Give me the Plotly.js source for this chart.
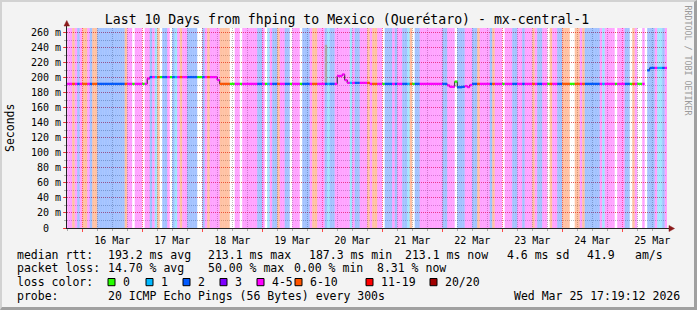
<!DOCTYPE html>
<html><head><meta charset="utf-8">
<script src="https://cdn.plot.ly/plotly-3.0.1.min.js"></script>
<style>
html,body{margin:0;padding:0;background:#f3f3f3;}
#wrap{position:relative;width:697px;height:310px;overflow:hidden;}
#chart{position:absolute;left:0;top:0;width:697px;height:310px;}
#frame{position:absolute;left:0;top:0;width:697px;height:310px;box-sizing:border-box;border-top:2px solid #d2d2d2;border-left:2px solid #d2d2d2;border-right:3px solid #a0a0a0;border-bottom:3px solid #a0a0a0;pointer-events:none;}
</style></head><body>
<div id="wrap"><div id="chart"></div><div id="frame"></div></div>
<script>
// ---- data (hourly bins starting 2026-03-15 18:00) ----
// loss class per hour as runs: [class, hours]; W=0, C=1, B=2, P=4-5, O=6-10
const lossRuns = [['P',2],['O',1],['P',1],['B',1],['P',1],['O',2],['P',1],['B',1],['O',2],['B',11],['O',1],['P',2],['W',1],['P',3],['W',1],['P',2],['B',1],['P',1],['C',1],['O',1],['W',1],['B',2],['P',1],['W',1],['B',1],['C',1],['P',1],['O',1],['P',2],['B',4],['W',2],['B',1],['P',1],['O',1],['P',4],['O',4],['W',2],['P',2],['W',1],['P',6],['B',2],['P',1],['W',1],['C',1],['P',1],['B',2],['O',1],['P',2],['B',2],['W',1],['P',3],['W',1],['B',3],['P',1],['O',2],['P',3],['B',1],['C',1],['B',2],['P',6],['C',1],['P',1],['B',2],['P',3],['O',1],['P',1],['O',2],['P',2],['W',1],['B',3],['P',1],['B',1],['P',2],['B',2],['C',1],['O',1],['W',1],['B',2],['P',9],['B',2],['P',3],['W',1],['B',3],['P',3],['B',2],['O',1],['P',4],['B',1],['O',1],['P',3],['W',1],['P',3],['B',2],['P',2],['B',1],['P',3],['O',1],['P',1],['B',2],['P',2],['W',1],['O',1],['P',2],['B',2],['O',3],['W',2],['O',2],['P',1],['O',1],['B',6],['P',1],['C',1],['P',4],['W',1],['P',3],['B',2],['W',1],['O',1],['P',1],['W',2],['P',1],['W',1],['B',3],['P',1],['C',2],['B',1],['P',1]];
// median rtt (ms) per hour as runs: [value, hours]
const medianRuns = [[192,32],[199,1],[201,27],[197,1],[192,47],[202.5,2],[204.5,1],[197,1],[193.3,9],[192,31],[190,1],[188,2],[195,1],[187.5,2],[188,1],[189,1],[187.7,1],[190.5,1],[192,69],[null,1],[210,1],[213.2,7]];
const spikeHours = [103];
const spikeTops = [244];
const yTickVals = [0,20,40,60,80,100,120,140,160,180,200,220,240,260];
const yTickText = ['0\u00a0\u00a0','20 m','40 m','60 m','80 m','100 m','120 m','140 m','160 m','180 m','200 m','220 m','240 m','260 m'];
const lossColor = {W:'#26ff00', C:'#00b8ff', B:'#0059ff', P:'#ff00ff', O:'#ff5500'};
const legendLabels = ['0','1','2','3','4-5','6-10','11-19','20/20'];
const legendColors = ['#26ff00','#00b8ff','#0059ff','#7e00ff','#ff00ff','#ff5500','#ff0000','#a10000'];
const statsRtt = ['median rtt:','193.2 ms avg','213.1 ms max','187.3 ms min','213.1 ms now','4.6 ms sd','41.9','am/s'];
const statsLoss = ['packet loss:','14.70 % avg','50.00 % max','0.00 % min','8.31 % now'];
const probeText = ['probe:','20 ICMP Echo Pings (56 Bytes) every 300s','Wed Mar 25 17:19:12 2026'];
const titleText = 'Last 10 Days from fhping to Mexico (Querétaro) - mx-central-1';

// ---- construction ----
const HOUR = 3600000;
const t0 = Date.UTC(2026,2,15,18,0,0);
const xStart = Date.UTC(2026,2,15,17,55,0), xEnd = Date.UTC(2026,2,25,17,55,0);
const yTop = 266.4;
function expand(runs){const o=[];runs.forEach(([v,n])=>{for(let i=0;i<n;i++)o.push(v);});return o;}
const loss = expand(lossRuns);
const median = expand(medianRuns);
const xc = loss.map((_,i)=>t0+(i+0.5)*HOUR);
const xs = loss.map((_,i)=>t0+i*HOUR);
function rgba(hex,a){const n=parseInt(hex.slice(1),16);return `rgba(${n>>16},${(n>>8)&255},${n&255},${a})`;}

const mono = 'DejaVu Sans Mono';
const traces = [
  {type:'bar', x:xc, y:loss.map(()=>yTop), base:0, width:HOUR,
   marker:{color:loss.map(c=>c==='W'?'rgba(255,255,255,0)':rgba(lossColor[c],0.36)), line:{width:0}}, hoverinfo:'skip'},
  {type:'bar', x:spikeHours.map(h=>t0+(h+0.5)*HOUR), base:spikeHours.map(h=>median[h]),
   y:spikeHours.map((h,i)=>spikeTops[i]-median[h]), width:HOUR*0.9, marker:{color:'#a9a9a9', line:{width:0}}, hoverinfo:'skip'},
  {type:'scatter', mode:'lines', x:xs.concat([t0+loss.length*HOUR]), y:median.concat([median[median.length-1]]),
   line:{shape:'hv', color:'#222', width:1}, connectgaps:false, hoverinfo:'skip'}
];
Object.keys(lossColor).forEach(c=>{
  const x=[], y=[];
  loss.forEach((lc,i)=>{ if(lc===c && median[i]!=null){ x.push(xs[i], xs[i]+HOUR, null); y.push(median[i], median[i], null); } });
  traces.push({type:'scatter', mode:'lines', x:x, y:y, line:{color:lossColor[c], width:2.3}, connectgaps:false, hoverinfo:'skip'});
});

const L=67, T=28, W=600, H=200;
const X = p => (p-L)/W;
const Y = q => (T+H-q)/H;
const ann = [];
function txt(t,x,y,opt){ann.push(Object.assign({text:t, xref:'paper', yref:'paper', x:X(x), y:Y(y), xanchor:'left', yanchor:'middle', showarrow:false, borderpad:0, font:{family:mono,size:11.5,color:'#000'}},opt||{}));}
const rttX = [16,107,207,308,404,506,586,634];
statsRtt.forEach((t,i)=>txt(t,rttX[i],254.5));
const lossX = [16,107,207,293,376];
statsLoss.forEach((t,i)=>txt(t,lossX[i],268.3));
txt('loss color:',16,282.2);
const boxX = [108,146,183,220,257,295,366,430];
legendLabels.forEach((t,i)=>txt(t,boxX[i]+14,282.2));
const probeX = [16,107,513];
probeText.forEach((t,i)=>txt(t,probeX[i],296));
txt('Seconds',10,128,{xanchor:'center', textangle:-90});
txt('RRDTOOL / TOBI OETIKER',687.5,60,{xanchor:'center', textangle:90, font:{family:mono,size:8.3,color:'#9a9a9a'}});

const shapes = [];
legendColors.forEach((c,i)=>shapes.push({type:'rect', xref:'paper', yref:'paper', x0:X(boxX[i]), x1:X(boxX[i]+7), y0:Y(285.7), y1:Y(278.5), fillcolor:c, line:{color:'#000', width:1}}));
shapes.push({type:'line', xref:'paper', yref:'paper', x0:X(66.5), x1:X(66.5), y0:Y(28), y1:Y(24), line:{color:'#222', width:1}});
shapes.push({type:'line', xref:'paper', yref:'paper', x0:X(667), x1:X(671), y0:Y(228.5), y1:Y(228.5), line:{color:'#222', width:1}});
shapes.push({type:'path', xref:'paper', yref:'paper', path:`M ${X(64)} ${Y(26)} L ${X(69.5)} ${Y(26)} L ${X(66.75)} ${Y(20.5)} Z`, fillcolor:'#8b1a1a', line:{color:'#8b1a1a', width:0.5}});
shapes.push({type:'path', xref:'paper', yref:'paper', path:`M ${X(669)} ${Y(225.5)} L ${X(669)} ${Y(231.5)} L ${X(674.5)} ${Y(228.5)} Z`, fillcolor:'#8b1a1a', line:{color:'#8b1a1a', width:0.5}});

const layout = {
  width:697, height:310, autosize:false,
  margin:{l:L, r:697-L-W, t:T, b:310-T-H, pad:0},
  paper_bgcolor:'#f3f3f3', plot_bgcolor:'#ffffff',
  showlegend:false, barmode:'overlay',
  title:{text:titleText, font:{family:mono, size:13.2, color:'#000'}, xref:'container', yref:'container', x:347/697, y:1-19/310, xanchor:'center', yanchor:'middle'},
  xaxis:{type:'date', range:[xStart,xEnd], tickmode:'linear', tick0:Date.UTC(2026,2,16), dtick:86400000,
    ticklabelmode:'period', tickformat:'%d %b', tickfont:{family:mono,size:10,color:'#000'},
    showgrid:true, gridcolor:'rgba(255,0,0,0.55)', griddash:'1px,1px', gridwidth:1,
    ticks:'outside', ticklen:3, tickcolor:'rgba(255,0,0,0.7)', showline:true, linecolor:'#222', linewidth:1, zeroline:false,
    minor:{tick0:Date.UTC(2026,2,16), dtick:6*HOUR, showgrid:true, gridcolor:'rgba(120,120,120,0.5)', griddash:'1px,1px', ticks:'outside', ticklen:2, tickcolor:'#aaa'},
    fixedrange:true},
  yaxis:{range:[0,yTop], tickmode:'array', tickvals:yTickVals, ticktext:yTickText, tickfont:{family:mono,size:10,color:'#000'},
    showgrid:true, gridcolor:'rgba(255,0,0,0.55)', griddash:'1px,1px', gridwidth:1,
    ticks:'outside', ticklen:3, tickcolor:'rgba(255,0,0,0.7)', showline:true, linecolor:'#222', linewidth:1, zeroline:false,
    minor:{tickmode:'linear', tick0:0, dtick:10, showgrid:true, gridcolor:'rgba(120,120,120,0.5)', griddash:'1px,1px', ticks:'outside', ticklen:2, tickcolor:'#aaa'},
    fixedrange:true},
  annotations:ann, shapes:shapes
};
Plotly.newPlot('chart', traces, layout, {staticPlot:true, displayModeBar:false});
</script>
</body></html>
